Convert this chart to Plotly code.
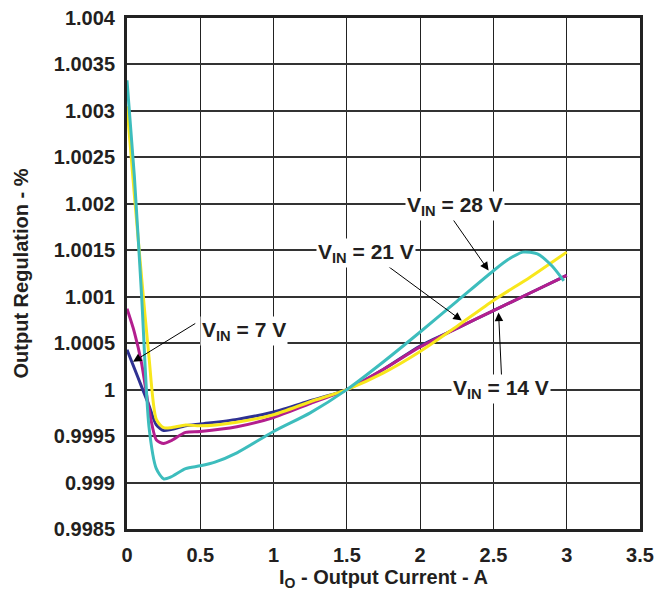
import plotly.graph_objects as go

# ---- data ----
x_std = [0, 0.05, 0.1, 0.15, 0.2, 0.25, 0.3, 0.4, 0.5, 0.75, 1.0, 1.25, 1.5, 1.75, 2.0, 2.25, 2.5, 2.75, 3.0]

vin7_y = [1.00043, 1.00023, 1.00003, 0.99983, 0.99962, 0.99956, 0.99957, 0.99961, 0.99963, 0.99968, 0.99976, 0.99988,
          1.0, 1.00022, 1.00047, 1.00066, 1.00085, 1.00104, 1.00123]
vin14_y = [1.00087, 1.00062, 1.00028, 0.99979, 0.99946, 0.99942, 0.99945, 0.99954, 0.99955, 0.9996, 0.9997, 0.99985,
           1.0, 1.00022, 1.00046, 1.00066, 1.00085, 1.00104, 1.00123]
vin21_y = [1.00305, 1.0021, 1.0012, 1.00035, 0.99968, 0.99959, 0.99959, 0.99962, 0.99961, 0.99965, 0.99973, 0.99987,
           1.0, 1.00018, 1.00041, 1.00068, 1.00096, 1.00121, 1.00148]

x_28 = [0, 0.05, 0.1, 0.15, 0.2, 0.25, 0.3, 0.4, 0.5, 0.6, 0.75, 1.0, 1.25, 1.5, 1.75, 2.0, 2.25, 2.5, 2.6, 2.7,
        2.8, 2.9, 2.98]
vin28_y = [1.00333, 1.0023, 1.0010, 0.9996, 0.99915, 0.99904, 0.99906, 0.99915, 0.99918, 0.99922, 0.99932, 0.99955,
           0.99975, 1.0, 1.0003, 1.00062, 1.00095, 1.00128, 1.0014, 1.00148, 1.00146, 1.00133, 1.00117]

x_ticks = [0, 0.5, 1, 1.5, 2, 2.5, 3, 3.5]
x_ticktext = ["0", "0.5", "1", "1.5", "2", "2.5", "3", "3.5"]
y_ticks = [0.9985, 0.999, 0.9995, 1.0, 1.0005, 1.001, 1.0015, 1.002, 1.0025, 1.003, 1.0035, 1.004]
y_ticktext = ["0.9985", "0.999", "0.9995", "1", "1.0005", "1.001", "1.0015", "1.002", "1.0025", "1.003", "1.0035", "1.004"]

labels = ["V<sub>IN</sub> = 7 V", "V<sub>IN</sub> = 14 V", "V<sub>IN</sub> = 21 V", "V<sub>IN</sub> = 28 V"]
label_pos = [(0.80, 1.000635), (2.55, 1.00001), (1.63, 1.001476), (2.235, 1.001975)]
arrow_tail = [(0.476, 1.000722), (2.556, 1.000118), (1.774, 1.001336), (2.195, 1.001897)]
arrow_head = [(0.041, 1.0003), (2.535, 1.000829), (2.284, 1.000743), (2.467, 1.001282)]

colors = ["#2E3192", "#B31E8E", "#F8E71C", "#3DBDBD"]

FONT = "Liberation Sans"
TXT = "#231F20"

fig = go.Figure()
series = [(x_std, vin7_y), (x_std, vin14_y), (x_std, vin21_y), (x_28, vin28_y)]
for (xs, ys), c in zip(series, colors):
    fig.add_trace(go.Scatter(x=xs, y=ys, mode="lines",
                             line=dict(color=c, width=3, shape="spline", smoothing=0.7),
                             showlegend=False, hoverinfo="skip"))

annotations = []
for (tx, ty), (hx, hy) in zip(arrow_tail, arrow_head):
    annotations.append(dict(x=hx, y=hy, ax=tx, ay=ty, xref="x", yref="y", axref="x", ayref="y",
                            text="", showarrow=True, arrowhead=2, arrowsize=1.7, arrowwidth=1,
                            arrowcolor="black", standoff=0))
for lab, (lx, ly) in zip(labels, label_pos):
    annotations.append(dict(x=lx, y=ly, xref="x", yref="y", text="<b>" + lab + "</b>", showarrow=False,
                            font=dict(family=FONT, size=21, color=TXT), bgcolor="white",
                            borderpad=1))

fig.update_layout(
    width=659, height=597,
    margin=dict(l=127, r=19, t=18, b=68),
    paper_bgcolor="white", plot_bgcolor="white",
    annotations=annotations,
    font=dict(family=FONT, color=TXT),
)
fig.update_xaxes(range=[0, 3.5], tickvals=x_ticks, ticktext=["<b>%s</b>" % t for t in x_ticktext],
                 tickfont=dict(family=FONT, size=20, color=TXT), automargin=False,
                 showgrid=True, gridcolor="#222", gridwidth=1.2, zeroline=False,
                 showline=True, linecolor="#222", linewidth=3, mirror=True, ticks="",
                 ticklabelstandoff=6,
                 title=dict(text="<b>I<sub>O</sub> - Output Current - A</b>",
                            font=dict(family=FONT, size=20, color=TXT), standoff=4))
fig.update_yaxes(range=[0.9985, 1.004], tickvals=y_ticks, ticktext=["<b>%s</b>" % t for t in y_ticktext],
                 tickfont=dict(family=FONT, size=20, color=TXT), automargin=False,
                 showgrid=True, gridcolor="#333", gridwidth=1.6, zeroline=False,
                 showline=True, linecolor="#222", linewidth=3, mirror=True, ticks="",
                 ticklabelstandoff=5,
                 title=dict(text="<b>Output Regulation - %</b>",
                            font=dict(family=FONT, size=20, color=TXT), standoff=20))

fig.write_html("out.html")
